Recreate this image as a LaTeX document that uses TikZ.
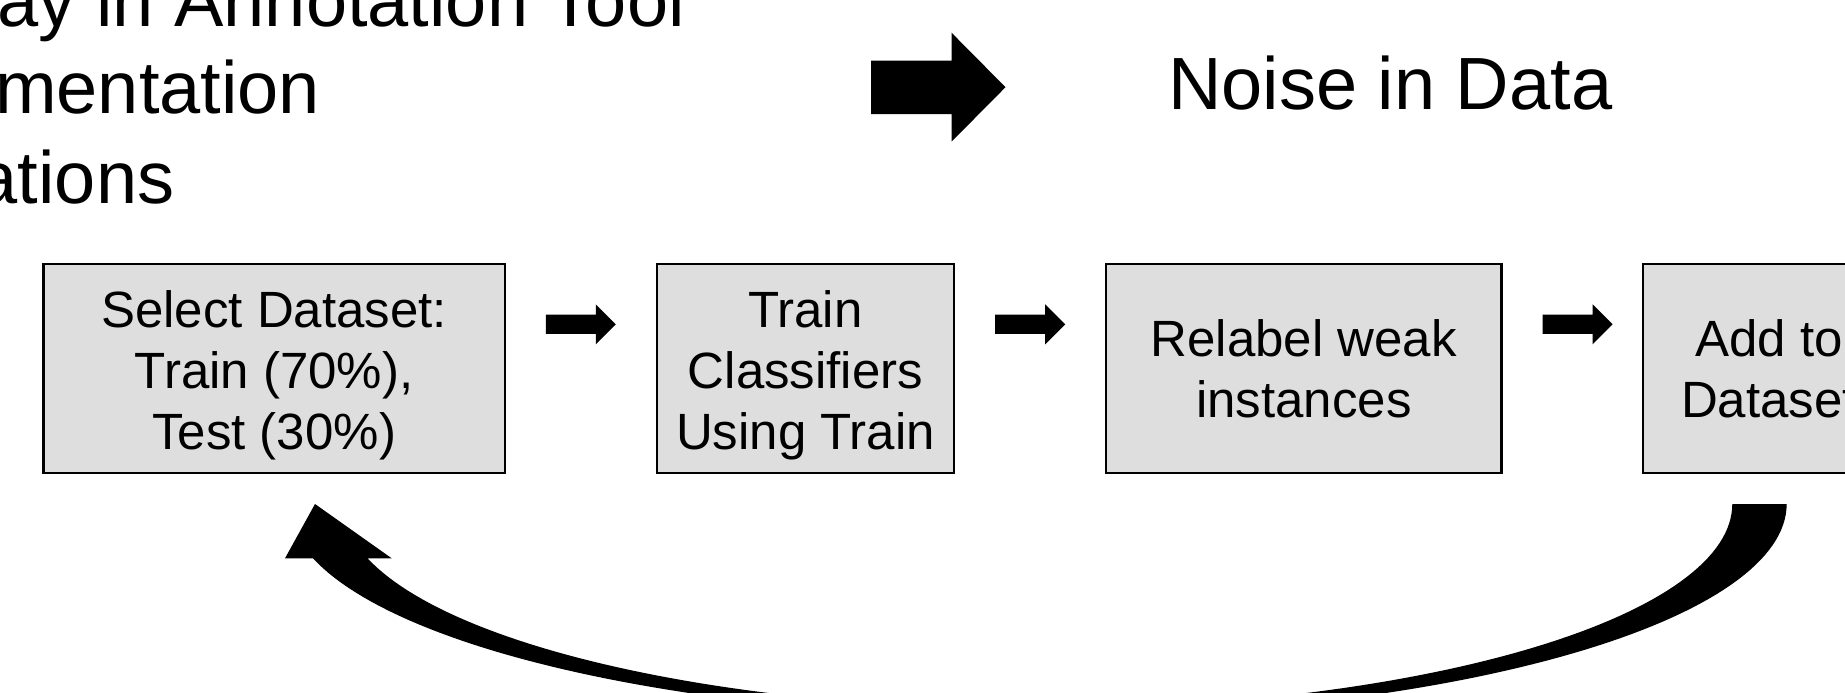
\documentclass[tikz,border=0pt]{standalone}
\usepackage{fontspec}
\setmainfont{Liberation Sans}
\usetikzlibrary{calc}
\definecolor{boxgray}{RGB}{222,222,222}
\tikzset{
  stepbox/.style={draw=black, line width=2.2pt, fill=boxgray, rectangle, minimum height=209.4pt, inner sep=0pt},
  boxtext/.style={align=center, font=\fontsize{51}{61}\selectfont, inner sep=0pt},
  bigtext/.style={font=\fontsize{74}{89}\selectfont, inner sep=0pt, anchor=base west},
  loopfill/.style={fill=black},
  pics/blockarrow/.style={code={\fill[black] (-35,-9.65) -- (15,-9.65) -- (15,-20) -- (35,0) -- (15,20) -- (15,9.65) -- (-35,9.65) -- cycle;}}
}
\begin{document}
\begin{tikzpicture}[x=1pt,y=-1pt]
\useasboundingbox (0,0) rectangle (1845,693);
\clip (0,0) rectangle (1845,693);
% clipped heading lines
\node[bigtext] (t1) at (-2.5,26.7) {ay in Annotation Tool};
\node[bigtext] (t2) at (-5,113.3) {mentation};
\node[bigtext] (t3) at (-23.4,203.3) {ations};
\node[bigtext] (noise) at (1168,109.3) {Noise in Data};
% big arrow
\fill (871,60.7) -- (951.5,60.7) -- (951.5,32.7) -- (1005.5,87.2) -- (951.5,141.7) -- (951.5,114) -- (871,114) -- cycle;
% boxes
\node[stepbox, minimum width=461.3pt] (b1) at (274.2,368.3) {};
\node[stepbox, minimum width=297.7pt] (b2) at (805.5,368.3) {};
\node[stepbox, minimum width=395.5pt] (b3) at (1303.8,368.3) {};
\node[stepbox, minimum width=252.8pt] (b4) at (1769,368.3) {};
\node[boxtext] (l1) at ([yshift=-7.3pt]b1.center) {Select Dataset:\\Train (70\%),\\Test (30\%)};
\node[boxtext] (l2) at ([yshift=-7.3pt]b2.center) {Train\\Classifiers\\Using Train};
\node[boxtext] (l3) at ([yshift=-0.8pt]b3.center) {Relabel weak\\instances};
\node[boxtext] (l4) at ([yshift=-0.8pt]b4.center) {Add to\\Dataset};
% block arrows between boxes
\coordinate (a1) at ($(b1.east)!0.5!(b2.west)+(0,-44)$);
\coordinate (a2) at ($(b2.east)!0.5!(b3.west)+(0,-44)$);
\coordinate (a3) at ($(b3.east)!0.5!(b4.west)+(5.5,-44)$);
\pic at (a1) {blockarrow};
\pic at (a2) {blockarrow};
\pic at (a3) {blockarrow};
% curved return arrow
\fill[loopfill] plot[domain=0:165.27, samples=120, variable=\t] ({1037.5+749.2*cos(\t)},{504+213.5*sin(\t)})
  -- (285,558.3) -- (315,504) -- (391.7,558.3)
  -- plot[domain=164.64:0, samples=120, variable=\t] ({1037.5+694.8*cos(\t)},{504+205*sin(\t)})
  -- cycle;
\end{tikzpicture}
\end{document}
